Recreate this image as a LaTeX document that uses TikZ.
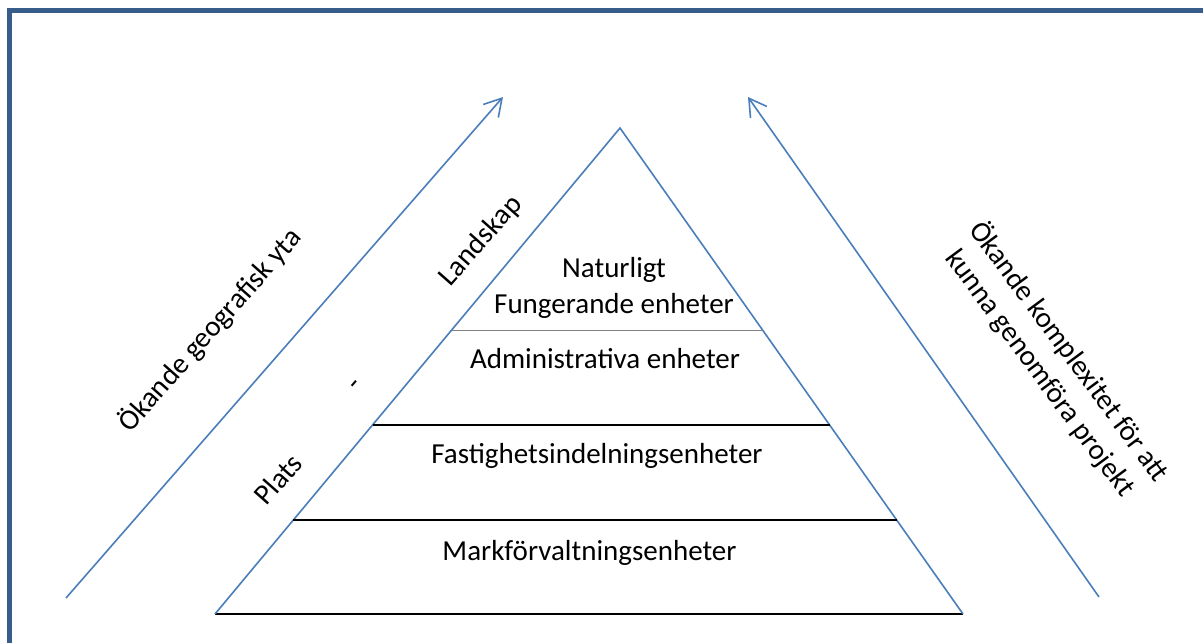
\documentclass[tikz,border=0pt]{standalone}
\usepackage{fontspec}
\setmainfont{Carlito}
\usetikzlibrary{arrows.meta,calc}
\definecolor{frameblue}{HTML}{385D8A}
\definecolor{lineblue}{HTML}{4A7EBB}
\tikzset{
  txt/.style={inner sep=0pt, font=\fontsize{29}{36}\selectfont},
  blueline/.style={draw=lineblue, line width=1.6pt},
  blackline/.style={draw=black, line width=2.4pt},
  arr/.style={blueline, -{Straight Barb[length=17pt,width=20pt,line width=1.6pt]}},
}
\begin{document}
\begin{tikzpicture}[x=1pt,y=-1pt]
\useasboundingbox (0,0) rectangle (1203,643);
\fill[white] (0,0) rectangle (1203,643);
% frame
\draw[frameblue, line width=5pt] (1203,10.5) -- (9.5,10.5) -- (9.5,643);
% triangle
\coordinate (apex) at (620,128);
\coordinate (bl) at (215,614);
\coordinate (br) at (963,614);
\draw[blackline] (bl) -- (br);
\draw[blueline] (bl) -- (apex) -- (br);
% layer lines
\coordinate (l1a) at ($(bl)!{(614-330)/486}!(apex)$);
\coordinate (l1b) at ($(br)!{(614-330)/486}!(apex)$);
\coordinate (l2a) at ($(bl)!{(614-425)/486}!(apex)$);
\coordinate (l2b) at ($(br)!{(614-425)/486}!(apex)$);
\coordinate (l3a) at ($(bl)!{(614-520)/486}!(apex)$);
\coordinate (l3b) at ($(br)!{(614-520)/486}!(apex)$);
\draw[draw=gray, line width=1pt] (l1a) -- (l1b);
\draw[blackline] (l2a) -- (l2b);
\draw[blackline] (l3a) -- (l3b);
% arrows
\coordinate (a1s) at (66,598);
\coordinate (a1e) at (503,97);
\coordinate (a2s) at (1099,597);
\coordinate (a2e) at (748,97);
\draw[arr] (a1s) -- (a1e);
\draw[arr] (a2s) -- (a2e);
% layer texts
\node[txt, anchor=base] (nat1) at (614,277) {Naturligt};
\node[txt, anchor=base] (nat2) at (614,313) {Fungerande enheter};
\node[txt, anchor=base] (adm) at (605,368) {Administrativa enheter};
\node[txt, anchor=base] (fast) at (597,463) {Fastighetsindelningsenheter};
\node[txt, anchor=base] (mark) at (589.5,560) {Markförvaltningsenheter};
% rotated texts
\node[txt, rotate=48.5] (geo) at (210,330) {Ökande geografisk yta};
\node[txt, rotate=48.5] (land) at (481,241) {Landskap};
\node[txt, rotate=48.5] (dash) at (357,386) {-};
\node[txt, rotate=48.5] (plats) at (278,479) {Plats};
\node[txt, rotate=-53.5, align=center] (komp) at (1055,362) {Ökande komplexitet för att\\kunna genomföra projekt};
\end{tikzpicture}
\end{document}
